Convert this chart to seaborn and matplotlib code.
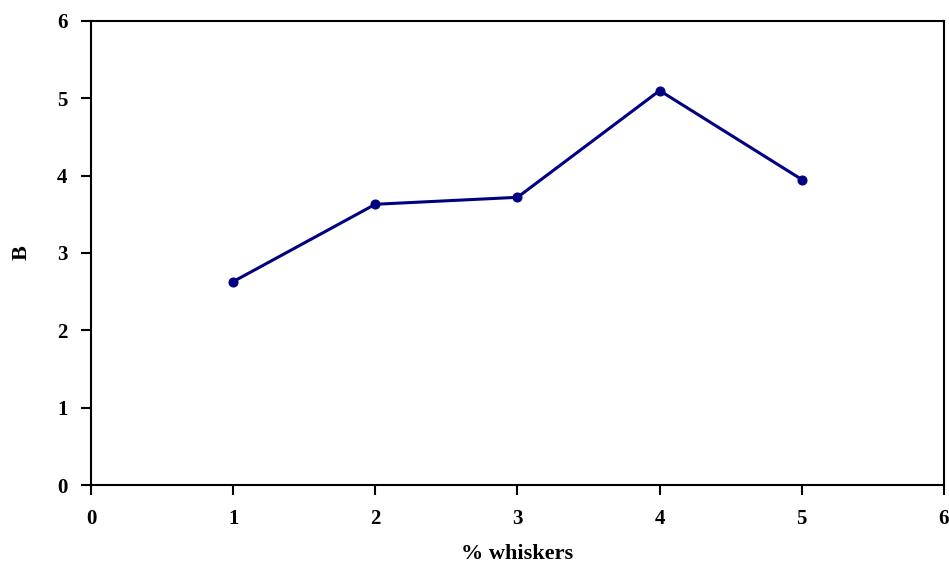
import matplotlib
matplotlib.use('Agg')
import matplotlib.pyplot as plt
import seaborn as sns
import pandas as pd

# dados
whiskers = [1, 2, 3, 4, 5]
b_values = [2.63, 3.63, 3.72, 5.10, 3.95]

df = pd.DataFrame({'whiskers': whiskers, 'B': b_values})

sns.set_style('white')
plt.rcParams['font.family'] = ['Liberation Serif', 'DejaVu Serif']
plt.rcParams['font.weight'] = 'bold'

fig = plt.figure(figsize=(9.49, 5.67), dpi=100)
ax = fig.add_axes([0.0959, 0.1446, 0.8988, 0.8184])

sns.lineplot(data=df, x='whiskers', y='B', ax=ax, color='#000080',
             linewidth=2.2, marker='o', markersize=6.5, markeredgecolor='#000080')

ax.set_xlim(0, 6)
ax.set_ylim(0, 6)
ax.set_xticks(range(0, 7))
ax.set_yticks(range(0, 7))
ax.tick_params(direction='out', length=7, width=1.5, colors='black',
               labelsize=15, pad=10, bottom=True, left=True)
for lbl in ax.get_xticklabels() + ax.get_yticklabels():
    lbl.set_fontweight('bold')

for s in ax.spines.values():
    s.set_visible(True)
    s.set_color('black')
    s.set_linewidth(1.5)

ax.set_xlabel('% whiskers', fontsize=16, fontweight='bold', labelpad=11, color='black')
ax.set_ylabel('B', fontsize=16, fontweight='bold', labelpad=18, color='black')

fig.savefig('out.png', dpi=100)
